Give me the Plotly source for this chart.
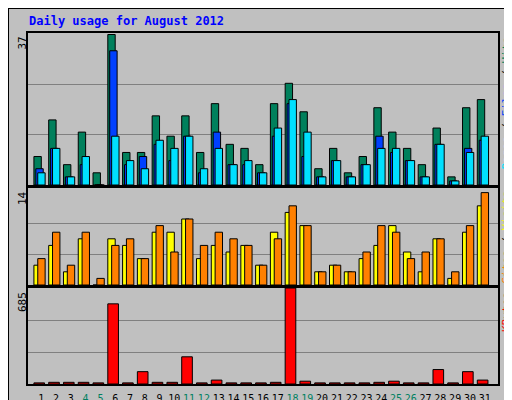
import plotly.graph_objects as go

days = list(range(1, 32))
hits   = [7,16,5,13,3,37,8,8,17,12,17,8,20,10,9,5,20,25,18,4,9,3,7,19,13,9,5,14,2,19,21]
files  = [4,9,2,5,0,33,5,7,10,6,12,3,13,5,5,3,12,20,7,2,6,2,5,12,8,6,2,10,1,9,11]
pages  = [3,9,2,7,0,12,6,4,11,9,12,4,9,5,6,3,14,21,13,2,6,2,5,9,9,6,2,10,1,8,12]
sites  = [3,6,2,7,0,7,6,4,8,8,10,4,6,5,6,3,8,11,9,2,3,2,4,6,9,5,2,7,1,8,12]
visits = [4,8,3,8,1,6,7,4,9,5,10,6,8,7,6,3,7,12,9,2,3,2,5,9,8,4,5,7,2,9,14]
kbytes = [8,12,12,12,8,572,8,88,12,12,194,8,28,8,8,8,12,685,20,8,8,8,8,12,20,8,8,103,8,88,28]
weekends = [4,5,11,12,18,19,25,26]
max_hits, max_visits, max_kb = 37, 14, 685

FONT = "DejaVu Sans Mono"
line = dict(color="black", width=1)
fig = go.Figure()
def bar(y, color, off, w, xa, ya):
    fig.add_trace(go.Bar(x=days, y=y, offset=off, width=w, marker=dict(color=color, line=line),
                         xaxis=xa, yaxis=ya, showlegend=False, hoverinfo="skip"))
bar(hits, "#00805c", -0.5, 0.5, "x3", "y3")
bar(files, "#0040ff", -0.37, 0.5, "x3", "y3")
bar(pages, "#00e0ff", -0.24, 0.5, "x3", "y3")
bar(sites, "#ffff00", -0.5, 0.5, "x2", "y2")
bar(visits, "#ff8000", -0.24, 0.5, "x2", "y2")
bar(kbytes, "#ff0000", -0.5, 0.72, "x", "y")

xr = [0.1, 31.9]
xdom = [20/512, 490/512]
def yd(top, bot):
    return [1-bot/400, 1-top/400]
tt = [f"<span style='color:{'#008060' if d in weekends else 'black'}'>{d}</span>" for d in days]
common_x = dict(range=xr, domain=xdom, showline=True, mirror=True, linecolor="black", linewidth=2,
                showgrid=False, zeroline=False, ticks="")
common_y = dict(showline=True, mirror=True, linecolor="black", linewidth=2, showticklabels=False,
                gridcolor="#808080", gridwidth=1, zeroline=False, ticks="")
fig.update_layout(
    width=512, height=400, margin=dict(l=0, r=0, t=0, b=0),
    paper_bgcolor="#c0c0c0", plot_bgcolor="#c0c0c0", barmode="overlay",
    font=dict(family=FONT, size=11, color="black"),
    xaxis=dict(common_x, anchor="y", tickvals=days, ticktext=tt, tickangle=0,
               tickfont=dict(size=10), ticklabelstandoff=4),
    xaxis2=dict(common_x, anchor="y2", showticklabels=False),
    xaxis3=dict(common_x, anchor="y3", showticklabels=False),
    yaxis=dict(common_y, anchor="x", domain=yd(280, 376), range=[0, max_kb*1.0],
               tickvals=[max_kb/3, 2*max_kb/3]),
    yaxis2=dict(common_y, anchor="x2", domain=yd(180, 277), range=[0, max_visits*1.05],
                tickvals=[max_visits/3, 2*max_visits/3]),
    yaxis3=dict(common_y, anchor="x3", domain=yd(25, 177), range=[0, max_hits*1.01],
                tickvals=[max_hits/3, 2*max_hits/3]),
)
anns = [
    dict(x=19/512, y=1-4/400, text="<b>Daily usage for August 2012</b>", font=dict(color="#0000ff", size=12),
         xanchor="left", yanchor="top", showarrow=False),
    dict(x=14/512, y=1-27/400, text=str(max_hits), textangle=-90, xanchor="center", yanchor="top", showarrow=False),
    dict(x=14/512, y=1-181/400, text=str(max_visits), textangle=-90, xanchor="center", yanchor="top", showarrow=False),
    dict(x=14/512, y=1-282/400, text=str(max_kb), textangle=-90, xanchor="center", yanchor="top", showarrow=False),
    dict(x=498/512, y=1-27/400, textangle=-90, xanchor="center", yanchor="top", showarrow=False,
         text="<span style='color:#00e0ff'>Pages</span> / <span style='color:#0040ff'>Files</span> / <span style='color:#00805c'>Hits</span>"),
    dict(x=498/512, y=1-181/400, textangle=-90, xanchor="center", yanchor="top", showarrow=False,
         text="<span style='color:#ff8000'>Sites</span> / <span style='color:#ffff00'>Visits</span>"),
    dict(x=498/512, y=1-282/400, textangle=-90, xanchor="center", yanchor="top", showarrow=False,
         text="<span style='color:#ff0000'>KBytes</span>"),
]
for a in anns:
    a.update(xref="paper", yref="paper")
fig.update_layout(annotations=anns)
fig.update_layout(shapes=[
    dict(type="rect", xref="paper", yref="paper", x0=505/512, x1=1, y0=0, y1=1, fillcolor="#808080",
         line=dict(width=0), layer="below"),
    dict(type="rect", xref="paper", yref="paper", x0=0, x1=1, y0=0, y1=6/400, fillcolor="#808080",
         line=dict(width=0), layer="below"),
    dict(type="rect", xref="paper", yref="paper", x0=0, x1=1, y0=0, y1=1, line=dict(color="black", width=2),
         layer="below"),
])
fig.write_html("out.html")
